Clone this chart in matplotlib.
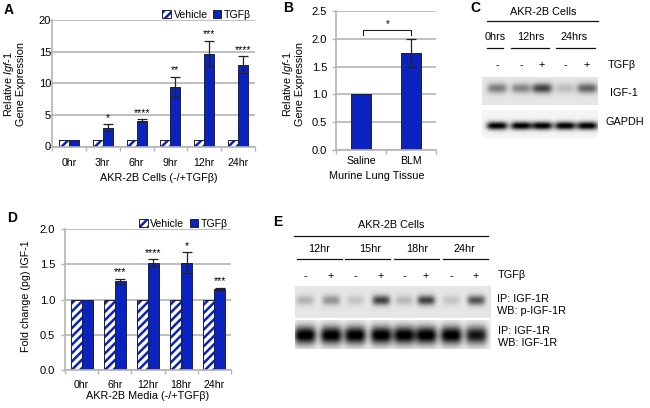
import numpy as np
import matplotlib
matplotlib.use('Agg')
import matplotlib.pyplot as plt
from matplotlib.patches import Patch
from matplotlib.legend_handler import HandlerTuple

plt.rcParams['font.family'] = ['Liberation Sans', 'DejaVu Sans']
plt.rcParams['font.size'] = 7.8
plt.rcParams['mathtext.fontset'] = 'custom'
plt.rcParams['mathtext.it'] = 'Liberation Sans:italic'
plt.rcParams['mathtext.rm'] = 'Liberation Sans'
plt.rcParams['hatch.linewidth'] = 1.8

BLUE = '#0a22c0'
GRID = '#b4b4b4'
DARK = '#222222'
W, H = 650, 408

# panel A
a_labels = ['0hr', '3hr', '6hr', '9hr', '12hr', '24hr']
a_vehicle = [1, 1, 1, 1, 1, 1]
a_tgfb = [1, 3, 4.1, 9.4, 14.7, 12.9]
a_err = [0, 0.55, 0.25, 1.6, 2.0, 1.35]
a_stars = ['', '*', '****', '**', '***', '****']

# panel B
b_labels = ['Saline', 'BLM']
b_values = [1, 1.75]
b_err = [0, 0.25]

# panel D
d_labels = ['0hr', '6hr', '12hr', '18hr', '24hr']
d_vehicle = [1, 1, 1, 1, 1]
d_tgfb = [1, 1.26, 1.52, 1.52, 1.15]
d_err = [0, 0.035, 0.05, 0.15, 0.015]
d_stars = ['', '***', '****', '*', '***']

# blots, band darkness read per lane
c_signs = ['-', '-', '+', '-', '+']
c_igf = [0.42, 0.38, 0.65, 0.16, 0.52]
c_gapdh = [1.0, 1.0, 1.0, 1.0, 1.0]
e_signs = ['-', '+', '-', '+', '-', '+', '-', '+']
e_p = [0.2, 0.33, 0.13, 0.65, 0.18, 0.65, 0.13, 0.58]
e_total = [1.0, 1.0, 1.0, 1.0, 1.0, 1.0, 1.0, 0.88]


def px_axes(x0, y0, x1, y1):
    # pixel box, y counted from the top of the image
    return fig.add_axes([x0 / W, 1 - y1 / H, (x1 - x0) / W, (y1 - y0) / H])


def style(ax, ymax, yticks, labels, fmt, pad, ypad):
    n = len(labels)
    ax.set_xlim(0, n)
    ax.set_ylim(0, ymax)
    ax.set_yticks(yticks)
    ax.set_yticklabels([fmt % t for t in yticks], fontsize=8)
    ax.set_xticks(np.arange(n) + 0.5)
    ax.set_xticklabels(labels, fontsize=7.6)
    ax.set_xticks(np.arange(n + 1), minor=True)
    ax.tick_params(axis='x', which='major', length=0, pad=pad)
    ax.tick_params(axis='x', which='minor', length=3, color=GRID, width=1)
    ax.tick_params(axis='y', length=3, color=GRID, width=1, pad=ypad)
    ax.grid(axis='y', color=GRID, lw=1.2)
    ax.set_axisbelow(True)
    for s in ['top', 'right']:
        ax.spines[s].set_visible(False)
    for s in ['left', 'bottom']:
        ax.spines[s].set_color(GRID)
        ax.spines[s].set_linewidth(1.2)


def grouped(ax, vehicle, tgfb, err, stars, width, offset):
    x = np.arange(len(vehicle)) + 0.5
    ax.bar(x - width / 2, vehicle, width, color='white', hatch='////', edgecolor=BLUE, lw=0)
    ax.bar(x - width / 2, vehicle, width, color='none', edgecolor=DARK, lw=0.7)
    ax.bar(x + width / 2, tgfb, width, color=BLUE, edgecolor=DARK, lw=0.7)
    for xi, v, e, s in zip(x + width / 2, tgfb, err, stars):
        if e > 0:
            ax.errorbar(xi, v, yerr=e, color=DARK, capsize=3.5, lw=0.9, capthick=0.9)
        if s:
            ax.annotate(s, (xi, v + e), xytext=(0, offset), textcoords='offset points',
                        ha='center', va='bottom', fontsize=7.5)
    handles = [(Patch(facecolor='white', hatch='////', edgecolor=BLUE, lw=0),
                Patch(facecolor='none', edgecolor=DARK, lw=0.7)),
               Patch(facecolor=BLUE, edgecolor=DARK, lw=0.7)]
    ax.legend(handles, ['Vehicle', 'TGFβ'], ncol=2, frameon=False, fontsize=7.6, loc='lower right',
              bbox_to_anchor=(0.98, 1.0), handlelength=0.8, handleheight=0.8, handletextpad=0.25,
              columnspacing=0.5, borderpad=0, borderaxespad=0,
              handler_map={tuple: HandlerTuple(ndivide=1, pad=0)})


def blot(over, box, lanes, band_y, dark, sx, sy, bg):
    x0, y0, x1, y1 = box
    xx, yy = np.meshgrid(np.arange(x0, x1, 0.5), np.arange(y0, y1, 0.5))
    img = np.full(xx.shape, 1.0 - bg)
    for lx, d in zip(lanes, dark):
        img -= d * np.exp(-(((xx - lx) / sx) ** 4 + ((yy - band_y) / sy) ** 2))
    over.imshow(np.clip(img, 0, 1), cmap='gray', vmin=0, vmax=1, extent=[x0, x1, y1, y0],
                aspect='auto', interpolation='bilinear')


fig = plt.figure(figsize=(W / 100, H / 100), dpi=100)

axA = px_axes(52, 20, 255, 146.5)
style(axA, 20, [0, 5, 10, 15, 20], a_labels, '%d', 8, -2.4)
grouped(axA, a_vehicle, a_tgfb, a_err, a_stars, 0.295, 1)

axB = px_axes(336, 11, 436, 150)
style(axB, 2.5, [0, 0.5, 1, 1.5, 2, 2.5], b_labels, '%.1f', 4.5, 3.5)
axB.bar([0.5, 1.5], b_values, 0.4, color=BLUE, edgecolor=DARK, lw=0.7)
axB.errorbar([1.5], [b_values[1]], yerr=[b_err[1]], color=DARK, capsize=3.5, lw=0.9, capthick=0.9)
axB.plot([0.53, 0.53, 1.5, 1.5], [2.07, 2.16, 2.16, 2.07], color=DARK, lw=0.8)
axB.text(1.03, 2.17, '*', ha='center', va='bottom', fontsize=7)

axD = px_axes(65, 229, 231, 370)
style(axD, 2, [0, 0.5, 1, 1.5, 2], d_labels, '%.1f', 7, 4.2)
grouped(axD, d_vehicle, d_tgfb, d_err, d_stars, 0.33, 1)

over = fig.add_axes([0, 0, 1, 1], facecolor='none')

# western blots
c_lanes = [497, 521, 542, 565, 587]
blot(over, (482, 77, 598, 105), c_lanes, 88, c_igf, 10, 5, 0.1)
blot(over, (482, 110, 598, 138), c_lanes, 125.5, c_gapdh, 10.5, 4, 0.04)
e_lanes = [305, 331, 355, 381, 404, 426, 451, 476]
blot(over, (295, 286, 491, 318), e_lanes, 300, e_p, 9, 5, 0.1)
blot(over, (295, 320, 491, 349), e_lanes, 335, e_total, 11, 9, 0.06)

over.set_xlim(0, W)
over.set_ylim(H, 0)
over.axis('off')


def label(x, y, s, **kw):
    kw.setdefault('ha', 'center')
    kw.setdefault('va', 'center')
    kw.setdefault('fontsize', 7.8)
    over.text(x, y, s, **kw)


def rule(x0, x1, y):
    over.plot([x0, x1], [y, y], color='#111111', lw=0.9)


for x, y, s in [(9, 10, 'A'), (288, 8, 'B'), (475, 8, 'C'), (12, 218, 'D'), (278, 222, 'E')]:
    label(x, y, s, fontsize=10, fontweight='bold')

label(14, 84, 'Relative $\\mathit{Igf}$-$\\mathit{1}$\nGene Expression', rotation=90, linespacing=1.05)
label(159, 178, 'AKR-2B Cells (-/+TGFβ)')
label(293, 84, 'Relative $\\mathit{Igf}$-$\\mathit{1}$\nGene Expression', rotation=90, linespacing=1.05)
label(377, 176, 'Murine Lung Tissue')
label(26, 296, 'Fold change (pg) IGF-1', rotation=90, fontsize=7.7)
label(148, 396, 'AKR-2B Media (-/+TGFβ)')

# panel C annotations
label(543, 12, 'AKR-2B Cells')
rule(487, 598, 21)
for x, s in [(495, '0hrs'), (531, '12hrs'), (574, '24hrs')]:
    label(x, 37, s)
rule(487, 503, 48)
rule(511, 549, 48)
rule(556, 595, 48)
for x, s in zip(c_lanes, c_signs):
    label(x, 65, s)
label(622, 65, 'TGFβ')
label(624, 93, 'IGF-1')
label(625, 122, 'GAPDH')

# panel E annotations
label(391, 225, 'AKR-2B Cells')
rule(294, 488, 236)
for x, s in [(319, '12hr'), (370, '15hr'), (417, '18hr'), (464, '24hr')]:
    label(x, 249, s)
rule(297, 342, 259)
rule(345, 390, 259)
rule(394, 439, 259)
rule(443, 488, 259)
for x, s in zip(e_lanes, e_signs):
    label(x, 276, s)
label(498, 275, 'TGFβ', ha='left')
label(497, 299, 'IP: IGF-1R', ha='left')
label(497, 311, 'WB: p-IGF-1R', ha='left')
label(498, 331, 'IP: IGF-1R', ha='left')
label(498, 343, 'WB: IGF-1R', ha='left')

fig.savefig('out.png', dpi=100)
